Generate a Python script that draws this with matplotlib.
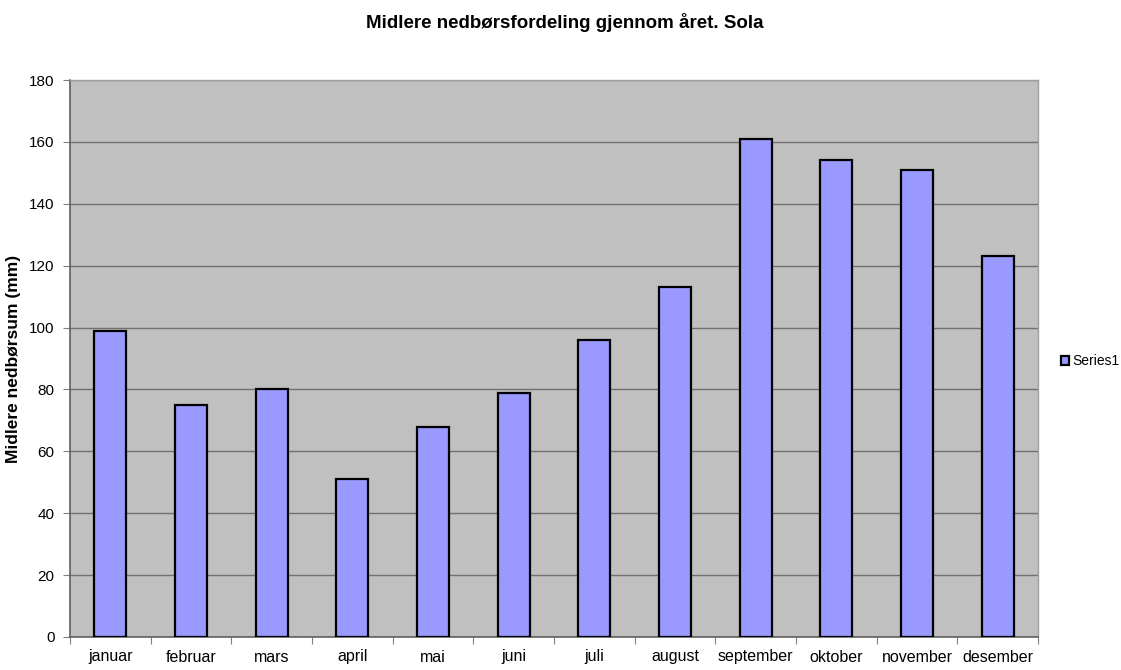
import matplotlib
matplotlib.use("Agg")
import matplotlib.pyplot as plt
import numpy as np

months = ["januar", "februar", "mars", "april", "mai", "juni", "juli",
          "august", "september", "oktober", "november", "desember"]
values = [99, 75, 80, 51, 68, 79, 96, 113, 161, 154, 151, 123]
yticks = [0, 20, 40, 60, 80, 100, 120, 140, 160, 180]

plt.rcParams['font.family'] = ['Liberation Sans', 'DejaVu Sans']

fig = plt.figure(figsize=(11.21, 6.70), dpi=100)
ax = fig.add_axes([70/1121, 33/670, 968/1121, 557/670])
ax.set_facecolor("#C0C0C0")

x = np.arange(len(months))
ax.bar(x, values, width=0.4, color="#9999FF", edgecolor="black",
       linewidth=1.6, zorder=3, label="Series1")

ax.set_xlim(-0.5, len(months) - 0.5)
ax.set_ylim(0, 180)
ax.set_yticks(yticks)
ax.tick_params(axis='y', labelsize=11, length=5, color="#808080", pad=6)
ax.yaxis.grid(True, color="#707070", linewidth=1.0, zorder=0)

ax.set_xticks(np.arange(-0.5, len(months)), labels=[""] * (len(months) + 1))
ax.set_xticks(x, labels=months, minor=True)
ax.tick_params(axis='x', which='major', length=5, color="#808080")
ax.tick_params(axis='x', which='minor', length=0, labelsize=11.5, pad=9)

for s in ["left", "bottom"]:
    ax.spines[s].set_color("#606060")
    ax.spines[s].set_linewidth(1.2)
for s in ["top", "right"]:
    ax.spines[s].set_color("#A0A0A0")
    ax.spines[s].set_linewidth(1.0)

ax.set_ylabel("Midlere nedbørsum (mm)", fontsize=12.5, fontweight="bold", labelpad=6)
fig.text(565/1121, 1 - 22/670, "Midlere nedbørsfordeling gjennom året. Sola",
         ha="center", va="center", fontsize=13.5, fontweight="bold")

fig.legend(loc="center left", bbox_to_anchor=(1061/1121, 1 - 361/670),
           frameon=False, fontsize=10, handlelength=0.6, handleheight=0.6,
           handletextpad=0.25, borderpad=0, borderaxespad=0)

fig.savefig("out.png", dpi=100, facecolor="white")
